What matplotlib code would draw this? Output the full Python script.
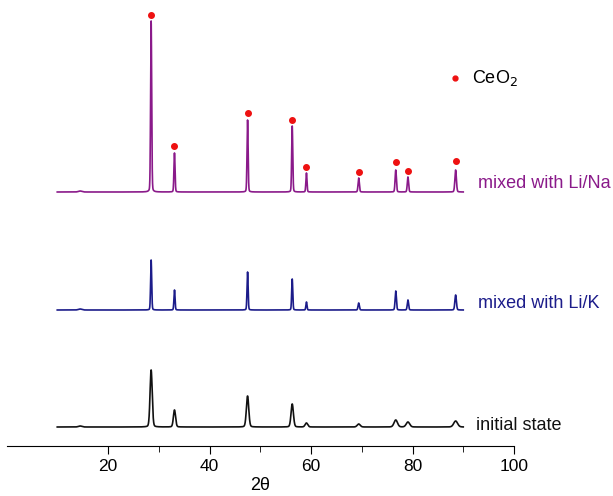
import numpy as np
import matplotlib
matplotlib.use("Agg")
import matplotlib.pyplot as plt

plt.rcParams["font.family"] = ["Liberation Sans", "DejaVu Sans"]

# === Data ===

peak_pos = [14.5, 28.5, 33.1, 47.5, 56.3, 59.1, 69.4, 76.7, 79.1, 88.5]

# peak heights above each baseline
h_initial = [1, 57, 17, 31, 23, 4, 3, 7, 5, 6]
h_lik = [1, 50, 20, 38, 31, 8, 7, 19, 10, 15]
h_lina = [1, 171, 39, 72, 66, 19, 14, 22, 15, 22]

# peak widths (FWHM, degrees)
w_initial = [0.8, 0.5, 0.5, 0.55, 0.55, 0.6, 0.7, 0.8, 0.8, 0.9]
w_lik = [0.8, 0.25, 0.25, 0.25, 0.25, 0.25, 0.3, 0.3, 0.3, 0.35]
w_lina = [0.8, 0.25, 0.25, 0.25, 0.25, 0.25, 0.3, 0.3, 0.3, 0.35]

baselines = [19, 136, 254]
labels = ["initial state", "mixed with Li/K", "mixed with Li/Na"]
colors = ["#111111", "#1c1c8a", "#8a1a8a"]
label_x = [92.6, 93.0, 92.9]
label_y = [21, 143, 263]

# CeO2 markers on the Li/Na pattern
ceo2_pos = [28.5, 33.1, 47.5, 56.3, 59.1, 69.4, 76.7, 79.1, 88.5]
ceo2_height = [177, 46, 79, 72, 25, 20, 30, 21, 31]

x_ticks = [20, 40, 60, 80, 100]
x_minor = [30, 50, 70, 90]


def profile(x, pos, heights, widths):
    y = np.zeros_like(x)
    for p, h, w in zip(pos, heights, widths):
        s = w / 2.355
        g = np.exp(-0.5 * ((x - p) / s) ** 2)
        lor = 1 / (1 + ((x - p) / (w / 2)) ** 2)
        y += h * (0.85 * g + 0.15 * lor)
    return y


theta = np.arange(10, 90.01, 0.02)

fig = plt.figure(figsize=(6.13, 4.96), dpi=100)
ax = fig.add_axes([6.5 / 613, 50 / 496, 507.5 / 613, 446 / 496])

series = [
    (h_initial, w_initial),
    (h_lik, w_lik),
    (h_lina, w_lina),
]
for (hs, ws), base, col, lab, lx, ly in zip(
    series, baselines, colors, labels, label_x, label_y
):
    ax.plot(theta, base + profile(theta, peak_pos, hs, ws), color=col, lw=1.2)
    ax.text(lx, ly, lab, color=col, fontsize=13, va="center", ha="left")

ax.plot(
    ceo2_pos,
    np.array(ceo2_height) + baselines[2],
    "o",
    color="#ee1111",
    ms=4,
)

# legend
ax.plot([88.3], [368], "o", color="#ee1111", ms=3.5)
ax.text(91.8, 368, "CeO$_2$", fontsize=13, va="center", ha="left")

ax.set_xlim(0, 100)
ax.set_ylim(0, 446)
ax.set_xticks(x_ticks)
ax.set_xticks(x_minor, minor=True)
ax.tick_params(axis="x", which="major", length=6, labelsize=12.5)
ax.tick_params(axis="x", which="minor", length=4)
ax.set_yticks([])
for s in ["left", "right", "top"]:
    ax.spines[s].set_visible(False)
ax.set_xlabel("2θ", fontsize=13, labelpad=2)

fig.savefig("out.png", dpi=100)
